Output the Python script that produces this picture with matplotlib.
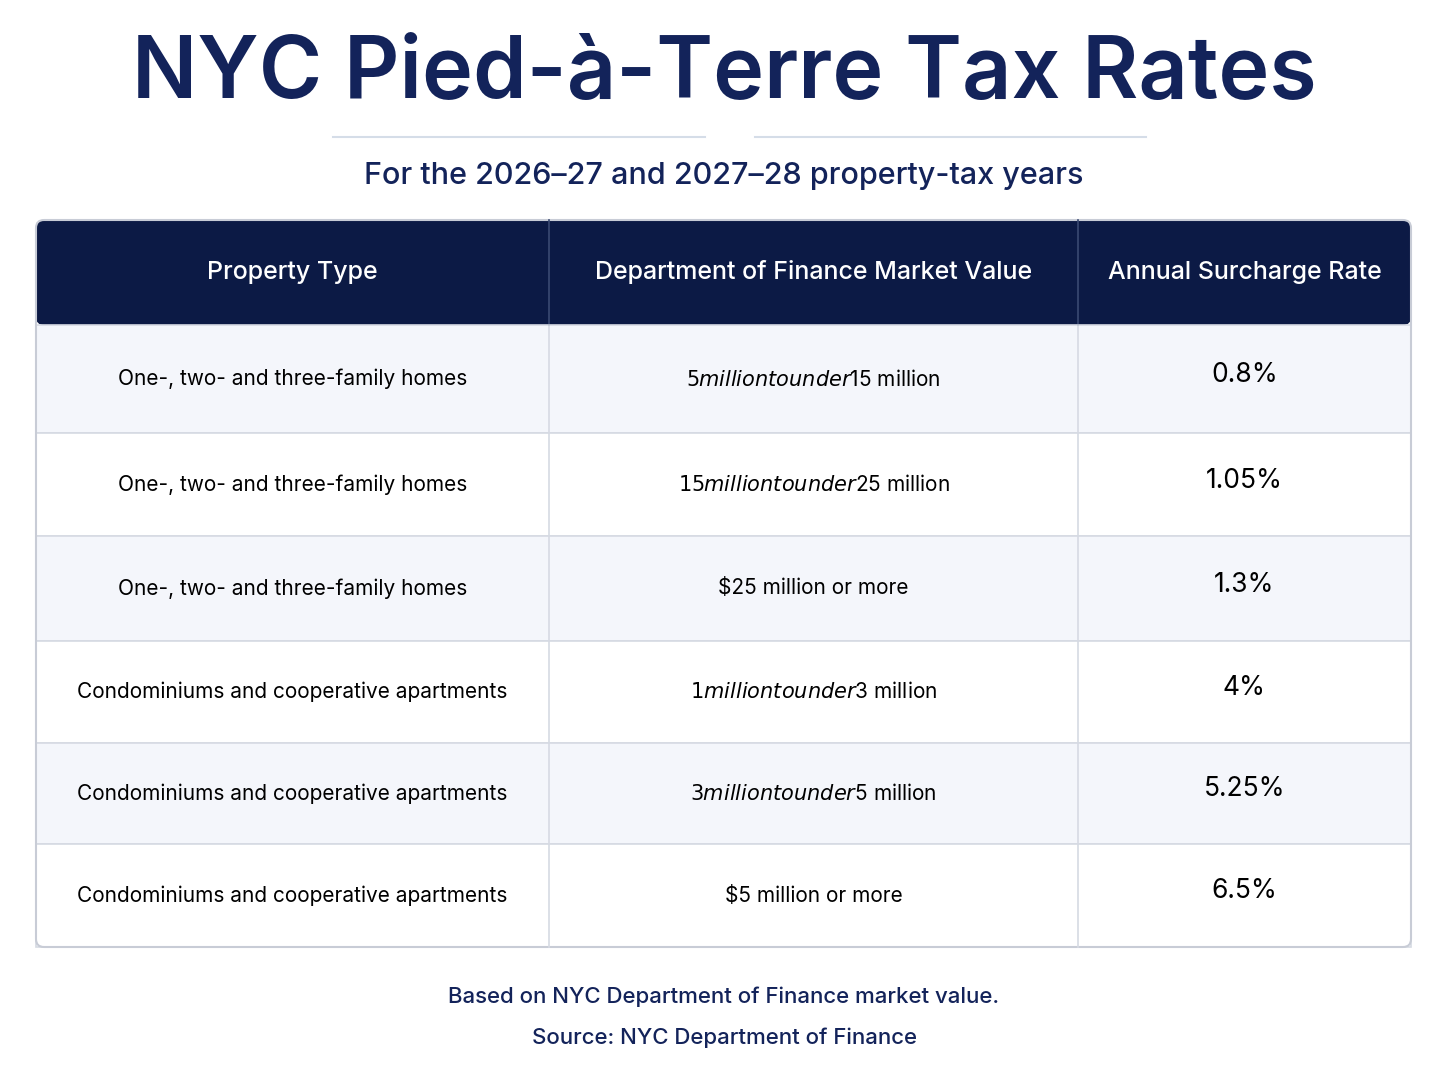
import matplotlib.pyplot as plt
from matplotlib.patches import Rectangle, FancyBboxPatch

plt.rcParams['font.family'] = ['Inter', 'DejaVu Sans']

title = 'NYC Pied-à-Terre Tax Rates'
subtitle = 'For the 2026–27 and 2027–28 property-tax years'
headers = ['Property Type', 'Department of Finance Market Value', 'Annual Surcharge Rate']
property_types = ['One-, two- and three-family homes'] * 3 + ['Condominiums and cooperative apartments'] * 3
market_values = ['$5 million to under $15 million', '$15 million to under $25 million', '$25 million or more',
                 '$1 million to under $3 million', '$3 million to under $5 million', '$5 million or more']
rates = ['0.8%', '1.05%', '1.3%', '4%', '5.25%', '6.5%']
note = 'Based on NYC Department of Finance market value.'
source = 'Source: NYC Department of Finance'

navy = '#0c1a45'
text_navy = '#13235a'

fig = plt.figure(figsize=(14.48, 10.86), dpi=100)
ax = fig.add_axes([0, 0, 1, 1])
ax.set_xlim(0, 1448)
ax.set_ylim(1086, 0)
ax.axis('off')

ax.text(724, 75, title, ha='center', va='center', fontsize=62, fontweight='semibold', color=text_navy)
ax.plot([333, 705], [137, 137], color='#d5dde8', lw=1.5)
ax.plot([755, 1146], [137, 137], color='#d5dde8', lw=1.5)
ax.text(724, 176, subtitle, ha='center', va='center', fontsize=22, fontweight='medium', color=text_navy)

left, right = 36, 1411
cols = [36, 549, 1078, 1411]
rows = [220, 325, 433, 536, 641, 743, 844, 947]

# header
ax.add_patch(FancyBboxPatch((left, rows[0]), right - left, rows[1] - rows[0],
                            boxstyle='round,pad=0,rounding_size=8', fc=navy, ec='none'))
for i, h in enumerate(headers):
    ax.text((cols[i] + cols[i + 1]) / 2, (rows[0] + rows[1]) / 2, h, ha='center', va='center',
            fontsize=18, fontweight='medium', color='white')
for c in cols[1:-1]:
    ax.plot([c, c], [rows[0], rows[1]], color='#3a4a72', lw=1.2)

# body
for r in range(len(rates)):
    y0, y1 = rows[r + 1], rows[r + 2]
    bg = '#f4f6fb' if r % 2 == 0 else 'white'
    ax.add_patch(Rectangle((left, y0), right - left, y1 - y0, fc=bg, ec='#d6dae3', lw=1.2))
    yc = (y0 + y1) / 2
    ax.text((cols[0] + cols[1]) / 2, yc, property_types[r], ha='center', va='center', fontsize=15, color='black')
    ax.text((cols[1] + cols[2]) / 2, yc, market_values[r], ha='center', va='center', fontsize=15, color='black')
    ax.text((cols[2] + cols[3]) / 2, yc - 4, rates[r], ha='center', va='center', fontsize=19, color='black')
    for c in cols[1:-1]:
        ax.plot([c, c], [y0, y1], color='#d6dae3', lw=1.2)

ax.add_patch(FancyBboxPatch((left, rows[0]), right - left, rows[-1] - rows[0],
                            boxstyle='round,pad=0,rounding_size=8', fc='none', ec='#c8ccd6', lw=1.5))

ax.text(724, 997, note, ha='center', va='center', fontsize=16, fontweight='medium', color=text_navy)
ax.text(724, 1038, source, ha='center', va='center', fontsize=16, fontweight='medium', color=text_navy)

fig.savefig('out.png', dpi=100)
